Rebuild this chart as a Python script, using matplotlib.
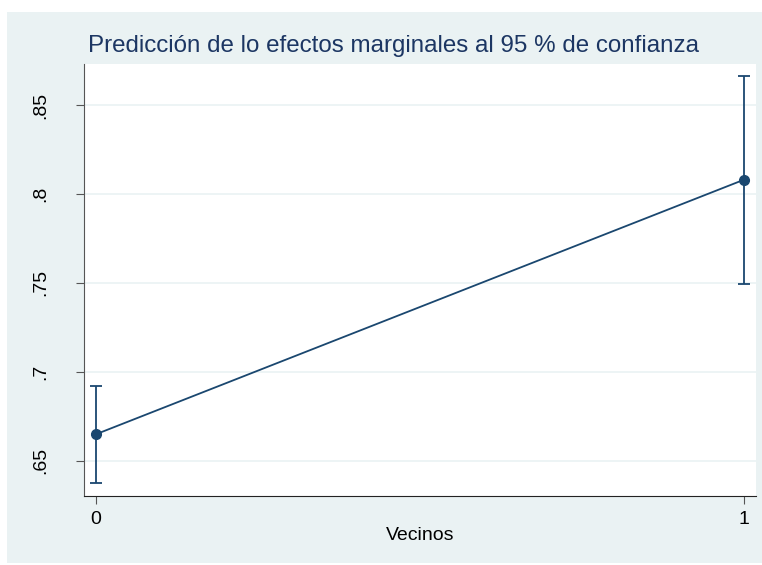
import matplotlib
matplotlib.use("Agg")
import matplotlib.pyplot as plt
from matplotlib.patches import Rectangle

plt.rcParams["font.family"] = ["Liberation Sans", "DejaVu Sans"]

vecinos = [0, 1]
margins = [0.665, 0.808]
ci_low = [0.6375, 0.7495]
ci_high = [0.692, 0.8665]
yticks = [0.65, 0.70, 0.75, 0.80, 0.85]
ytick_labels = [".65", ".7", ".75", ".8", ".85"]
xticks = [0, 1]
xtick_labels = ["0", "1"]

W, H = 762, 565
fig = plt.figure(figsize=(W / 100, H / 100), dpi=100, facecolor="white")
bg = "#EAF2F3"
fig.patches.append(Rectangle((7 / W, 1 - 563 / H), (762 - 7) / W, (563 - 12) / H,
                             transform=fig.transFigure, facecolor=bg, edgecolor="none", zorder=-10))

ax = fig.add_axes([84 / W, 1 - 496 / H, 672 / W, 432 / H])
ax.set_zorder(1)
ax.set_facecolor("white")
navy = "#1a476f"

yerr = [[m - l for m, l in zip(margins, ci_low)], [h - m for m, h in zip(margins, ci_high)]]
ax.errorbar(vecinos, margins, yerr=yerr, color=navy, marker="o", markersize=7,
            linewidth=1.3, elinewidth=1.3, capsize=4.5, capthick=1.3, zorder=3)

ax.set_xlim(-0.0185, 1.0185)
ax.set_ylim(0.6303, 0.873)
ax.set_yticks(yticks)
ax.set_yticklabels(ytick_labels, rotation=90, va="center", fontsize=14)
ax.set_xticks(xticks)
ax.set_xticklabels(xtick_labels, fontsize=14)
ax.grid(axis="y", color="#EAF2F3", linewidth=1.2)
ax.set_axisbelow(True)
for s in ["top", "right"]:
    ax.spines[s].set_visible(False)
ax.spines["left"].set_color("#555555")
ax.spines["bottom"].set_color("#222222")
ax.tick_params(axis="both", direction="out", length=6, color="#555555")
ax.tick_params(axis="x", pad=5)
ax.tick_params(axis="y", pad=19)
ax.set_xlabel("Vecinos", fontsize=14, labelpad=-1)

fig.text(88 / W, 1 - 46 / H, "Predicción de lo efectos marginales al 95 % de confianza",
         fontsize=17.4, color="#1c3663", ha="left", va="center")

fig.savefig("out.png", dpi=100, facecolor=fig.get_facecolor())
